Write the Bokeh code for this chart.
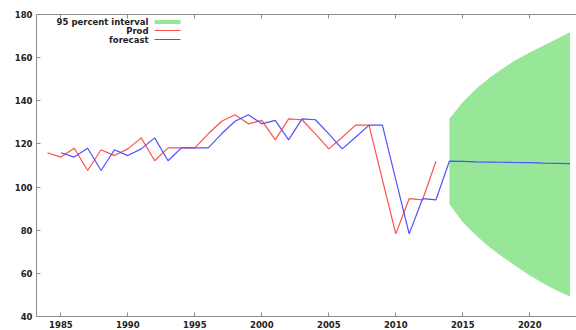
from bokeh.plotting import figure
from bokeh.models import (Range1d, FixedTicker, LinearAxis, Label, BoxAnnotation,
                          ColumnDataSource)
from bokeh.embed import file_html
from bokeh.resources import INLINE

# Observed production series
prod_years = list(range(1984, 2014))
prod = [115.9, 113.9, 118.0, 107.7, 117.3, 114.6, 117.7, 122.8, 112.2, 118.2,
        118.2, 118.2, 124.7, 130.5, 133.5, 129.3, 130.9, 121.9, 131.6, 131.2,
        124.7, 117.7, 123.1, 128.7, 128.7, 103.5, 78.3, 94.6, 94.1, 112.0]

# One-step-ahead forecasts, then the out-of-sample forecast path
fc_years = list(range(1985, 2024))
forecast = [115.9, 113.9, 118.0, 107.7, 117.3, 114.6, 117.7, 122.8, 112.2, 118.2,
            118.2, 118.2, 124.7, 130.5, 133.5, 129.3, 130.9, 121.9, 131.6, 131.2,
            124.7, 117.7, 123.1, 128.7, 128.7, 103.5, 78.3, 94.6, 94.1,
            112.0, 111.9, 111.7, 111.6, 111.5, 111.4, 111.3, 111.1, 111.0, 110.9]

# 95 percent interval for the out-of-sample horizon
band_years = list(range(2014, 2024))
band_upper = [131.7, 139.3, 145.6, 150.7, 155.1, 159.0, 162.4, 165.5, 168.7, 171.8]
band_lower = [92.2, 83.7, 77.6, 72.1, 67.5, 63.2, 59.0, 55.4, 52.0, 49.3]

x_ticks = [1985, 1990, 1995, 2000, 2005, 2010, 2015, 2020]
y_ticks = [40, 60, 80, 100, 120, 140, 160, 180]

FONT = "DejaVu Sans"
AXIS_GRAY = "#8c8c8c"
GREEN = "#98e698"
RED = "#ff5050"
BLUE = "#5050ff"

p = figure(width=576, height=330, output_backend="svg", toolbar_location=None,
           x_range=Range1d(1983.18, 2023.49), y_range=Range1d(40, 180),
           min_border_left=36, min_border_right=0, min_border_top=14,
           min_border_bottom=14, x_axis_location=None, y_axis_location=None)
p.outline_line_color = None
p.xgrid.visible = False
p.ygrid.visible = False
p.background_fill_color = "white"
p.border_fill_color = "white"


def style_axis(ax):
    ax.axis_line_color = AXIS_GRAY
    ax.major_tick_line_color = AXIS_GRAY
    ax.major_tick_in = 4
    ax.major_tick_out = 0
    ax.minor_tick_line_color = None
    ax.major_label_text_font = FONT
    ax.major_label_text_font_style = "bold"
    ax.major_label_text_font_size = "8.5px"
    ax.major_label_text_color = "#222222"
    ax.major_label_standoff = 4


bottom = LinearAxis(ticker=FixedTicker(ticks=x_ticks))
style_axis(bottom)
p.add_layout(bottom, "below")

left = LinearAxis(ticker=FixedTicker(ticks=y_ticks))
style_axis(left)
p.add_layout(left, "left")

# Top border with mirrored ticks only
top = LinearAxis(ticker=FixedTicker(ticks=x_ticks))
style_axis(top)
top.major_label_text_color = None
top.major_label_standoff = 0
p.add_layout(top, "above")

band_src = ColumnDataSource(dict(x=band_years, lo=band_lower, hi=band_upper))
p.varea(x="x", y1="lo", y2="hi", source=band_src, fill_color=GREEN, fill_alpha=1.0)

p.line(prod_years, prod, line_color=RED, line_width=1.2)
p.line(fc_years, forecast, line_color=BLUE, line_width=1.2)

# Legend: right-aligned text with its sample to the right
legend_rows = [("95 percent interval", 294.5), ("Prod", 286.0), ("forecast", 277.0)]
for txt, yy in legend_rows:
    p.add_layout(Label(x=112, y=yy, x_units="screen", y_units="screen", text=txt,
                       text_align="right", text_baseline="middle",
                       text_font=FONT, text_font_style="bold",
                       text_font_size="8.5px", text_color="#222222"))

p.add_layout(BoxAnnotation(left=118, right=144, bottom=292.5, top=296.5,
                           left_units="screen", right_units="screen",
                           bottom_units="screen", top_units="screen",
                           fill_color=GREEN, fill_alpha=1.0, line_color=None))
p.add_layout(BoxAnnotation(left=118, right=144, bottom=285.5, top=286.5,
                           left_units="screen", right_units="screen",
                           bottom_units="screen", top_units="screen",
                           fill_color=RED, fill_alpha=1.0, line_color=None))
p.add_layout(BoxAnnotation(left=118, right=144, bottom=276.5, top=277.5,
                           left_units="screen", right_units="screen",
                           bottom_units="screen", top_units="screen",
                           fill_color=BLUE, fill_alpha=1.0, line_color=None))

open("out.html", "w").write(file_html(p, INLINE))
